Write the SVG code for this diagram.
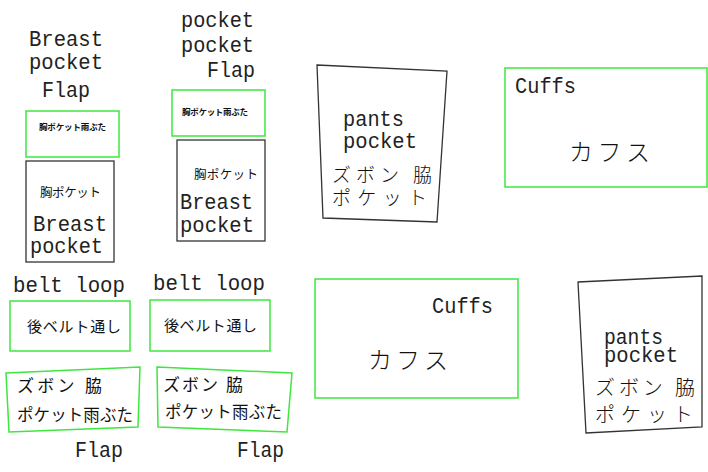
<svg xmlns="http://www.w3.org/2000/svg" width="708" height="472" viewBox="0 0 708 472">
<style>
.lat{font-family:"Liberation Mono","DejaVu Sans Mono",monospace;font-size:22px;fill:#222;}
.jp{font-family:"Noto Sans CJK JP","Noto Sans",sans-serif;font-weight:400;fill:#111;}
.jpl{font-family:"Noto Sans CJK JP","Noto Sans",sans-serif;font-weight:300;fill:#111;}
.jpb{font-family:"Noto Sans CJK JP","Noto Sans",sans-serif;font-weight:700;fill:#111;}
.g{fill:#fff;stroke:#3ee63e;stroke-width:1.5;}
.k{fill:#fff;stroke:#333;stroke-width:1.3;}
</style>
<rect width="708" height="472" fill="#fff"/>
<g id="connectors"/>
<g id="label-breast-flap">
<text class="lat" x="29" y="46" textLength="74" lengthAdjust="spacingAndGlyphs">Breast</text>
<text class="lat" x="29" y="69" textLength="74" lengthAdjust="spacingAndGlyphs">pocket</text>
<text class="lat" x="42" y="97" textLength="48" lengthAdjust="spacingAndGlyphs">Flap</text>
</g>
<g id="node-breast-flap-1">
<rect class="g" x="26" y="111" width="93" height="46"/>
<text class="jpb" x="39" y="130" font-size="8.5" textLength="67">胸ポケット雨ぶた</text>
</g>
<g id="node-breast-pocket-1">
<rect class="k" x="26" y="161" width="88" height="101"/>
<text class="jp" x="40" y="197" font-size="12.5" textLength="61">胸ポケット</text>
<text class="lat" x="33" y="231" textLength="74" lengthAdjust="spacingAndGlyphs">Breast</text>
<text class="lat" x="30" y="253" textLength="73" lengthAdjust="spacingAndGlyphs">pocket</text>
</g>
<g id="label-pocket-flap">
<text class="lat" x="181" y="27" textLength="73" lengthAdjust="spacingAndGlyphs">pocket</text>
<text class="lat" x="181" y="52" textLength="73" lengthAdjust="spacingAndGlyphs">pocket</text>
<text class="lat" x="207" y="77" textLength="48" lengthAdjust="spacingAndGlyphs">Flap</text>
</g>
<g id="node-breast-flap-2">
<rect class="g" x="172" y="90" width="93" height="46"/>
<text class="jpb" x="182" y="115" font-size="8.5" textLength="66">胸ポケット雨ぶた</text>
</g>
<g id="node-breast-pocket-2">
<rect class="k" x="177" y="140" width="88" height="101"/>
<text class="jp" x="194" y="179" font-size="12.5" textLength="64">胸ポケット</text>
<text class="lat" x="180" y="209" textLength="73" lengthAdjust="spacingAndGlyphs">Breast</text>
<text class="lat" x="180" y="232" textLength="74" lengthAdjust="spacingAndGlyphs">pocket</text>
</g>
<g id="node-belt-loop-1">
<text class="lat" x="13" y="292" textLength="112" lengthAdjust="spacingAndGlyphs">belt loop</text>
<rect class="g" x="10" y="301" width="120" height="50"/>
<text class="jp" x="27" y="332" font-size="15" textLength="94">後ベルト通し</text>
</g>
<g id="node-belt-loop-2">
<text class="lat" x="153" y="290" textLength="112" lengthAdjust="spacingAndGlyphs">belt loop</text>
<rect class="g" x="150" y="300" width="120" height="51"/>
<text class="jp" x="164" y="331" font-size="15" textLength="93">後ベルト通し</text>
</g>
<g id="node-pants-flap-1">
<polygon class="g" points="6,373 140,367 138,427 9,432"/>
<text class="jp" x="17" y="392" font-size="17" textLength="85">ズボン 脇</text>
<text class="jp" x="17" y="421" font-size="16.5" textLength="116">ポケット雨ぶた</text>
<text class="lat" x="75" y="457" textLength="48" lengthAdjust="spacingAndGlyphs">Flap</text>
</g>
<g id="node-pants-flap-2">
<polygon class="g" points="157,367 292,373 287,432 158,427"/>
<text class="jp" x="163" y="391" font-size="17" textLength="80">ズボン 脇</text>
<text class="jp" x="165" y="418" font-size="16.5" textLength="117">ポケット雨ぶた</text>
<text class="lat" x="237" y="457" textLength="47" lengthAdjust="spacingAndGlyphs">Flap</text>
</g>
<g id="node-pants-pocket-1">
<polygon class="k" points="317,65 447,71 437,222 323,218"/>
<text class="lat" x="343" y="126" font-size="21" textLength="61" lengthAdjust="spacingAndGlyphs">pants</text>
<text class="lat" x="343" y="148" font-size="21" textLength="74" lengthAdjust="spacingAndGlyphs">pocket</text>
<text class="jpl" x="332" y="182" font-size="19" textLength="100">ズボン 脇</text>
<text class="jpl" x="332" y="205" font-size="19" textLength="95">ポケット</text>
</g>
<g id="node-cuffs-1">
<rect class="g" x="505" y="68" width="202" height="119"/>
<text class="lat" x="515" y="93" textLength="61" lengthAdjust="spacingAndGlyphs">Cuffs</text>
<text class="jpl" x="569" y="161" font-size="24" textLength="81">カフス</text>
</g>
<g id="node-cuffs-2">
<rect class="g" x="315" y="279" width="203" height="119"/>
<text class="lat" x="432" y="313" textLength="61" lengthAdjust="spacingAndGlyphs">Cuffs</text>
<text class="jpl" x="368" y="369" font-size="24" textLength="80">カフス</text>
</g>
<g id="node-pants-pocket-2">
<polygon class="k" points="578,282 702,276 702,427 586,433"/>
<text class="lat" x="604" y="344" font-size="19" textLength="59" lengthAdjust="spacingAndGlyphs">pants</text>
<text class="lat" x="604" y="362" font-size="19" textLength="74" lengthAdjust="spacingAndGlyphs">pocket</text>
<text class="jpl" x="595" y="395" font-size="20" textLength="100">ズボン 脇</text>
<text class="jpl" x="595" y="422" font-size="20" textLength="98">ポケット</text>
</g>
</svg>
